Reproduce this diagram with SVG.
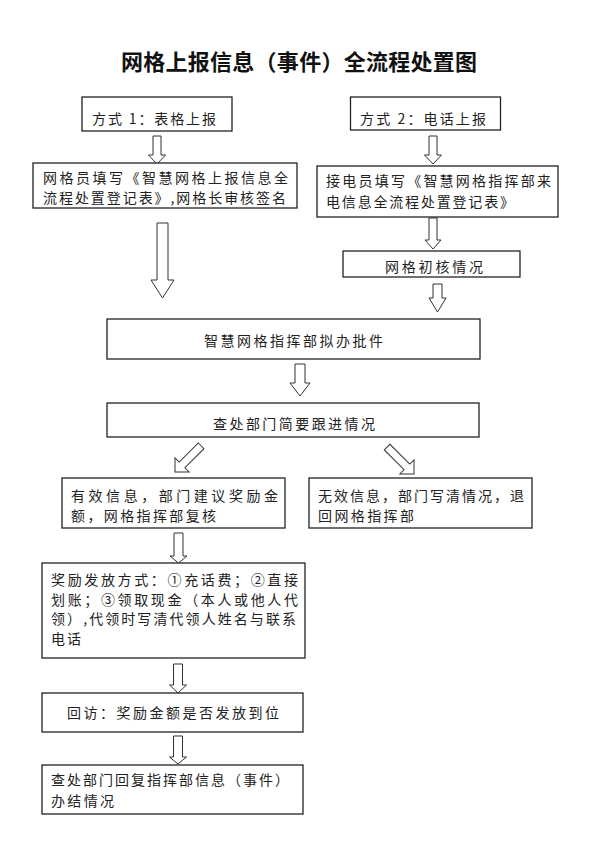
<svg xmlns="http://www.w3.org/2000/svg" width="600" height="849" viewBox="0 0 600 849">
<style>
.box{fill:#fff;stroke:#222;stroke-width:1.3}
.t{font-family:"Noto Sans CJK SC","Noto Sans",sans-serif;font-size:14px;fill:#222}
.title{font-family:"Noto Sans CJK SC","Noto Sans",sans-serif;font-size:22px;font-weight:bold;fill:#111;text-anchor:middle}
.ar{fill:#fff;stroke:#333;stroke-width:1}
</style>
<rect width="600" height="849" fill="#fff"/>
<text class="title" x="299" y="70" textLength="356" lengthAdjust="spacing">网格上报信息（事件）全流程处置图</text>

<g id="connectors">
<path class="ar" d="M153,136 H161 V155 H165.5 L157,164 L148.5,155 H153 Z"/>
<path class="ar" d="M429,136 H437 V155 H441.5 L433,164 L424.5,155 H429 Z"/>
<path class="ar" d="M157,223 H168 V280 H174 L162.5,298 L151,280 H157 Z"/>
<path class="ar" d="M429,218 H437 V240 H441 L433,249 L425,240 H429 Z"/>
<path class="ar" d="M433,284 H442 V298 H446 L437.5,312 L429,298 H433 Z"/>
<path class="ar" d="M295,364 H305 V383 H310 L300,396 L290,383 H295 Z"/>
<path class="ar" transform="translate(175,472) rotate(45)" d="M-4,-37 H4 V-10 H10 L0,0 L-10,-10 H-4 Z"/>
<path class="ar" transform="translate(414,474) rotate(-45)" d="M-4,-38 H4 V-10 H10 L0,0 L-10,-10 H-4 Z"/>
<path class="ar" d="M174,533 H183 V556 H187 L178.5,563 L170,556 H174 Z"/>
<path class="ar" d="M173.5,664 H182.5 V685 H186.5 L178,693 L169.5,685 H173.5 Z"/>
<path class="ar" d="M173.5,736 H182.5 V757 H186.5 L178,764 L169.5,757 H173.5 Z"/>
</g>

<g id="n1"><rect class="box" x="82" y="97" width="150" height="34"/>
<text class="t" x="92" y="124" textLength="124" lengthAdjust="spacing">方式 1：表格上报</text></g>

<g id="n2"><rect class="box" x="350.5" y="97" width="150" height="33"/>
<text class="t" x="360" y="124" textLength="126" lengthAdjust="spacing">方式 2：电话上报</text></g>

<g id="n3"><rect class="box" x="33" y="163" width="264" height="45"/>
<text class="t" x="43" y="183" textLength="245" lengthAdjust="spacing">网格员填写《智慧网格上报信息全</text>
<text class="t" x="43" y="203" textLength="243" lengthAdjust="spacing">流程处置登记表》,网格长审核签名</text></g>

<g id="n4"><rect class="box" x="317" y="166" width="241" height="51"/>
<text class="t" x="326" y="186" textLength="225" lengthAdjust="spacing">接电员填写《智慧网格指挥部来</text>
<text class="t" x="326" y="207" textLength="188" lengthAdjust="spacing">电信息全流程处置登记表》</text></g>

<g id="n5"><rect class="box" x="343" y="251" width="177" height="26"/>
<text class="t" x="385" y="272" textLength="98" lengthAdjust="spacing">网格初核情况</text></g>

<g id="n6"><rect class="box" x="107" y="319" width="373" height="40"/>
<text class="t" x="204" y="346" textLength="179" lengthAdjust="spacing">智慧网格指挥部拟办批件</text></g>

<g id="n7"><rect class="box" x="107" y="403" width="372" height="34"/>
<text class="t" x="213" y="429" textLength="162" lengthAdjust="spacing">查处部门简要跟进情况</text></g>

<g id="n8"><rect class="box" x="62" y="478" width="223" height="50"/>
<text class="t" x="71" y="501" textLength="207" lengthAdjust="spacing">有效信息，部门建议奖励金</text>
<text class="t" x="71" y="521" textLength="145" lengthAdjust="spacing">额，网格指挥部复核</text></g>

<g id="n9"><rect class="box" x="309" y="478" width="223" height="50"/>
<text class="t" x="318" y="501" textLength="206" lengthAdjust="spacing">无效信息，部门写清情况，退</text>
<text class="t" x="318" y="521" textLength="96" lengthAdjust="spacing">回网格指挥部</text></g>

<g id="n10"><rect class="box" x="42" y="563" width="263" height="95"/>
<text class="t" x="51" y="585" textLength="247" lengthAdjust="spacing">奖励发放方式：①充话费；②直接</text>
<text class="t" x="51" y="604.5" textLength="247" lengthAdjust="spacing">划账；③领取现金（本人或他人代</text>
<text class="t" x="51" y="624" textLength="245" lengthAdjust="spacing">领）,代领时写清代领人姓名与联系</text>
<text class="t" x="51" y="643.5" textLength="30" lengthAdjust="spacing">电话</text></g>

<g id="n11"><rect class="box" x="42" y="693" width="261" height="39"/>
<text class="t" x="67" y="718" textLength="212" lengthAdjust="spacing">回访：奖励金额是否发放到位</text></g>

<g id="n12"><rect class="box" x="42" y="765" width="261" height="49"/>
<text class="t" x="51" y="785" textLength="238" lengthAdjust="spacing">查处部门回复指挥部信息（事件）</text>
<text class="t" x="51" y="806" textLength="63" lengthAdjust="spacing">办结情况</text></g>
</svg>
